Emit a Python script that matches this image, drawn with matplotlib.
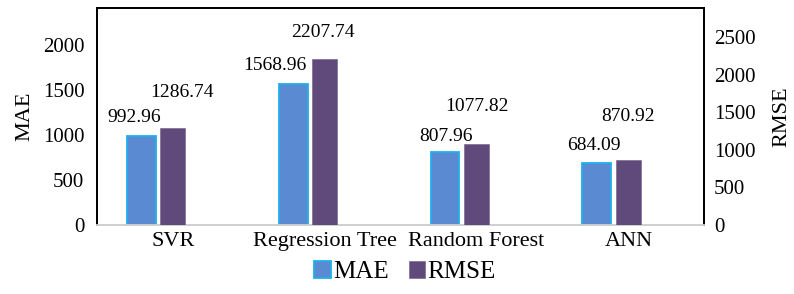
import matplotlib
matplotlib.use("Agg")
import matplotlib.pyplot as plt
import numpy as np

categories = ["SVR", "Regression Tree", "Random Forest", "ANN"]
mae = [992.96, 1568.96, 807.96, 684.09]
rmse = [1286.74, 2207.74, 1077.82, 870.92]
left_ticks = [0, 500, 1000, 1500, 2000]
right_ticks = [0, 500, 1000, 1500, 2000, 2500]

plt.rcParams['font.family'] = ['Liberation Serif', 'DejaVu Serif']

fig = plt.figure(figsize=(7.94, 2.94), dpi=100)
ax = fig.add_axes([0.122, 0.2347, 0.765, 0.738])
ax2 = ax.twinx()

x = np.arange(len(categories))
mae_color = '#5A8BD2'
mae_edge = '#1EB0EA'
rmse_color = '#5F4A7B'

b1 = ax.bar(x - 0.207, mae, width=0.19, color=mae_color, edgecolor=mae_edge,
            linewidth=1.3, label='MAE', zorder=3)
b2 = ax2.bar(x, rmse, width=0.165, color=rmse_color, edgecolor='#7C6A93',
             linewidth=0.5, label='RMSE', zorder=3)

ax.set_xlim(-0.5, len(categories) - 0.5)
ax.set_ylim(0, 2411)
ax2.set_ylim(0, 2886)
ax.set_yticks(left_ticks)
ax2.set_yticks(right_ticks)
ax.set_xticks(x)
ax.set_xticklabels(categories, fontsize=16)
ax.tick_params(axis='x', length=0, pad=5)
ax.tick_params(axis='y', length=0, pad=9, labelsize=15)
ax2.tick_params(axis='y', length=0, pad=7, labelsize=15)

ax.set_ylabel('MAE', fontsize=16, labelpad=6)
ax2.set_ylabel('RMSE', fontsize=16, labelpad=12)

for a in (ax, ax2):
    for s in ('left', 'right', 'top'):
        a.spines[s].set_color('black')
        a.spines[s].set_linewidth(1.3)
    a.spines['bottom'].set_color('#D0D0D0')
    a.spines['bottom'].set_linewidth(1.3)

mae_off = [(-7.5, 18), (-18.5, 18), (1, 16), (-3, 18)]
rmse_off = [(9.5, 36), (-1.5, 27), (0, 37), (0, 43)]
for i, r in enumerate(b1):
    ax.annotate(f"{mae[i]:.2f}", (r.get_x() + r.get_width() / 2, r.get_height()),
                xytext=mae_off[i], textcoords='offset pixels',
                ha='center', va='center', fontsize=14)
for i, r in enumerate(b2):
    ax2.annotate(f"{rmse[i]:.2f}", (r.get_x() + r.get_width() / 2, r.get_height()),
                 xytext=rmse_off[i], textcoords='offset pixels',
                 ha='center', va='center', fontsize=14)

fig.legend([b1, b2], ['MAE', 'RMSE'], loc='center', bbox_to_anchor=(0.51, 0.075),
           ncol=2, frameon=False, fontsize=18, handlelength=0.65, handleheight=0.65,
           handletextpad=0.1, columnspacing=0.8)

fig.savefig('out.png', dpi=100)
